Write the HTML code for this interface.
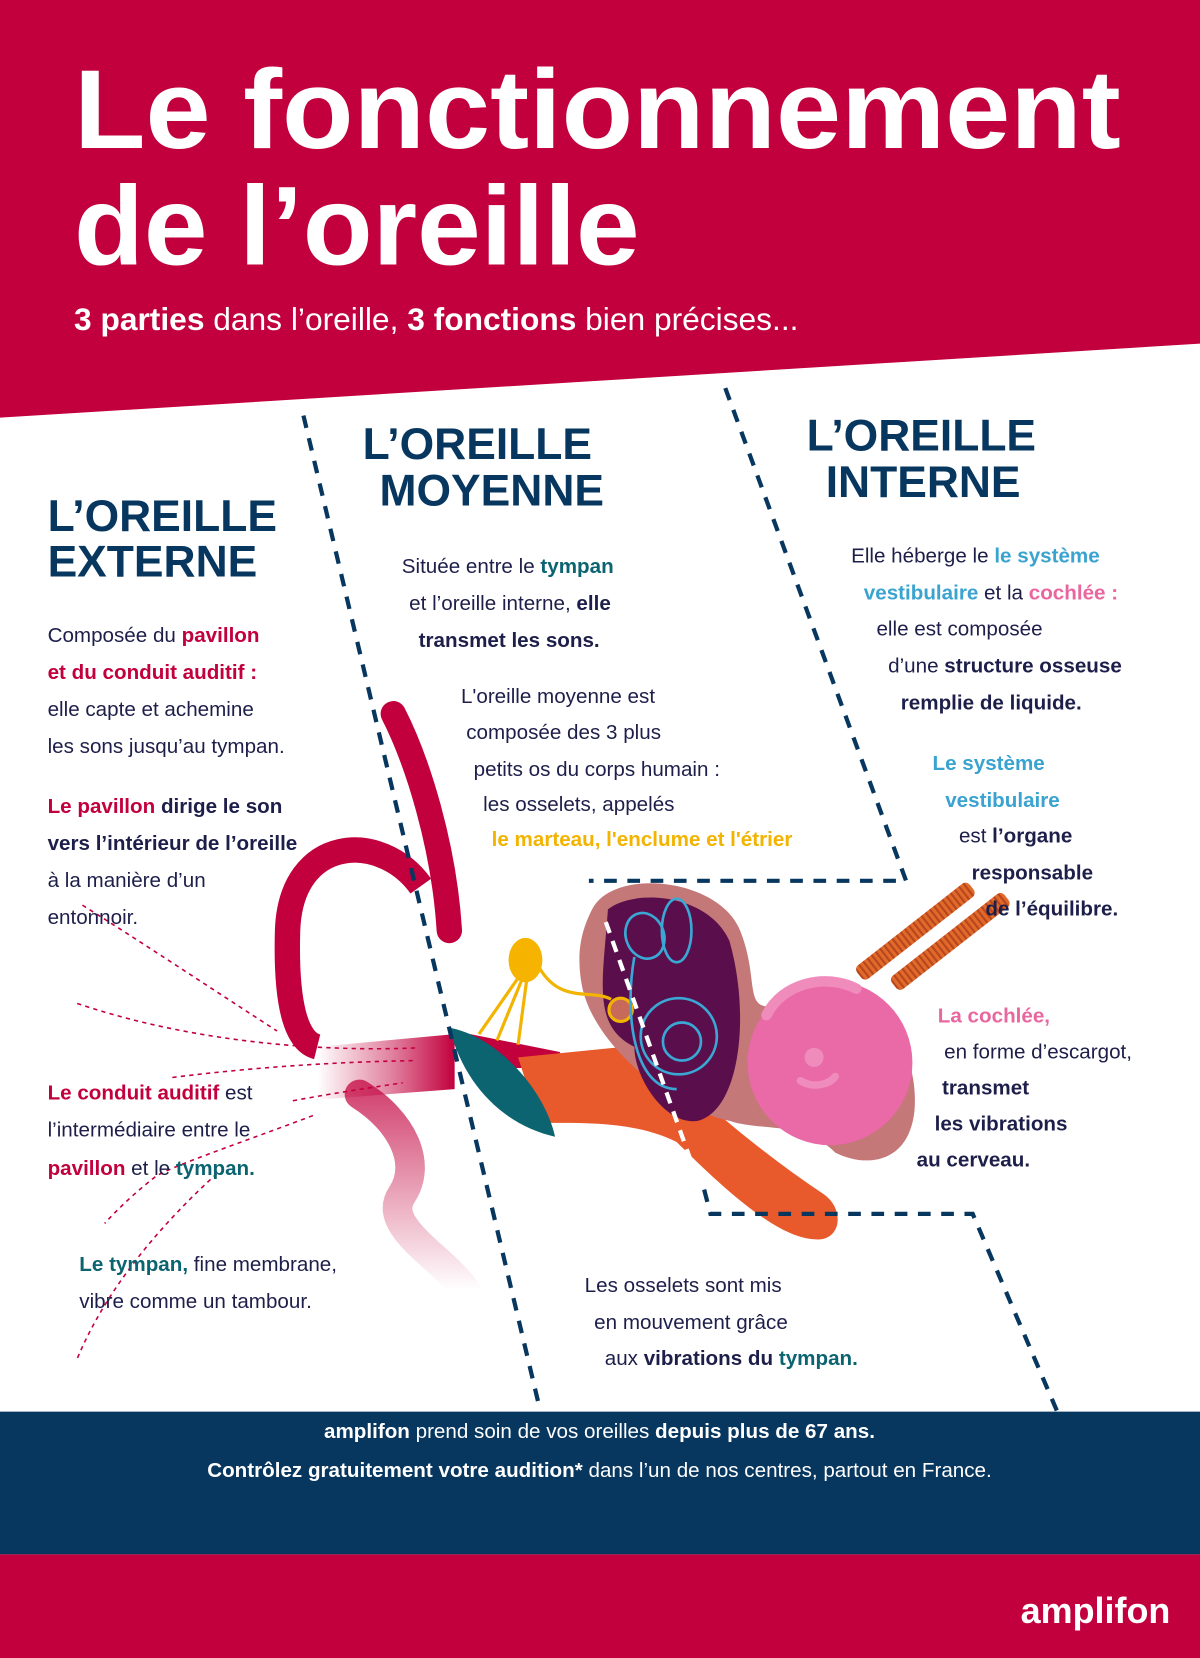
<!DOCTYPE html>
<html><head><meta charset="utf-8"><style>
html,body{margin:0;padding:0;background:#fff;}
svg{display:block;}
text{font-family:"Liberation Sans",sans-serif;}
.b{font-size:19.5px;fill:#1d1f4a;}
.h{font-size:42px;font-weight:bold;fill:#07365f;}
.bo{font-weight:bold;}
.r{fill:#c2003d;font-weight:bold;}
.t{fill:#0b6470;font-weight:bold;}
.lb{fill:#3aa3cf;font-weight:bold;}
.pk{fill:#e8679f;font-weight:bold;}
.y{fill:#f2b400;font-weight:bold;}
</style></head><body>
<svg width="1200" height="1658" viewBox="0 0 1135 1568" preserveAspectRatio="none" xmlns="http://www.w3.org/2000/svg">
<defs>
<linearGradient id="cg" x1="0" x2="1" y1="0" y2="0"><stop offset="0" stop-color="#c2003d" stop-opacity="0"/><stop offset="0.55" stop-color="#c2003d" stop-opacity="0.5"/><stop offset="1" stop-color="#c2003d"/></linearGradient>
<linearGradient id="lg" x1="0" x2="0" y1="0" y2="1"><stop offset="0" stop-color="#c2003d" stop-opacity="0.9"/><stop offset="1" stop-color="#c2003d" stop-opacity="0"/></linearGradient>
<pattern id="st" width="5" height="5" patternUnits="userSpaceOnUse"><rect width="5" height="5" fill="#e06a2a"/><rect width="2" height="5" fill="#b8451d"/></pattern>
</defs>
<rect width="1135" height="1568" fill="#fff"/>
<polygon points="0,0 1135,0 1135,325 0,395" fill="#c2003d"/>
<text x="70" y="140" font-size="106" font-weight="bold" fill="#fff" textLength="990" lengthAdjust="spacingAndGlyphs">Le fonctionnement</text>
<text x="70" y="250" font-size="106" font-weight="bold" fill="#fff" textLength="535" lengthAdjust="spacingAndGlyphs">de l’oreille</text>
<text x="70" y="312" font-size="30" fill="#fff"><tspan font-weight="bold">3 parties</tspan> dans l’oreille, <tspan font-weight="bold">3 fonctions</tspan> bien précises...</text>

<!-- illustration -->
<path d="M340,1035 C380,1060 400,1100 380,1130 C360,1160 420,1190 440,1220" stroke="url(#lg)" stroke-width="28" fill="none" stroke-linecap="round" opacity="0.8"/>
<path d="M300,990 L430,978 L430,1030 L300,1040 Z" fill="url(#cg)"/>
<path d="M398,838 C360,785 275,790 272,880 C270,950 280,985 300,990" stroke="#c2003d" stroke-width="24" fill="none"/>
<path d="M372,675 C395,720 420,800 425,880" stroke="#c2003d" stroke-width="24" fill="none" stroke-linecap="round"/>
<polygon points="430,975 530,995 520,1010 440,1010" fill="#c2003d"/>
<path d="M490,1000 L610,988 C660,1040 720,1090 780,1130 C800,1145 795,1175 770,1172 C740,1170 700,1140 640,1080 C600,1060 550,1062 510,1062 Z" fill="#e85a2b"/>
<path d="M425,972 C470,980 515,1030 525,1075 C480,1065 440,1030 425,972 Z" fill="#0b6470"/>
<path d="M560,860 C580,820 680,830 700,880 C720,930 700,960 740,950 C820,930 870,980 865,1050 C860,1100 820,1105 790,1090 C760,1060 720,1070 690,1060 C640,1050 560,990 550,930 C545,900 550,880 560,860 Z" fill="#c47878"/>
<path d="M575,860 C600,840 670,845 690,890 C710,960 700,1050 660,1060 C630,1065 600,1020 600,990 C560,970 570,930 575,860 Z" fill="#5a0f4c"/>
<g stroke="#f2b400" stroke-width="3" fill="none"><line x1="490" y1="925" x2="453" y2="978"/><line x1="493" y1="928" x2="470" y2="984"/><line x1="498" y1="928" x2="490" y2="988"/><path d="M510,915 C530,950 560,935 578,945"/><circle cx="587" cy="955" r="11" fill="#c86a5a"/></g>
<ellipse cx="497" cy="908" rx="16" ry="21" fill="#f6b400"/>
<g stroke="#3aa7d4" stroke-width="2.5" fill="none"><ellipse cx="610" cy="885" rx="18" ry="22" transform="rotate(-20 610 885)"/><ellipse cx="640" cy="880" rx="14" ry="30"/><circle cx="642" cy="980" r="36"/><circle cx="645" cy="985" r="18"/><path d="M600,905 C590,960 600,1030 640,1030"/></g>
<g transform="rotate(-38 870 890)"><rect x="805" y="872" width="135" height="16" rx="5" fill="url(#st)"/><rect x="825" y="900" width="135" height="16" rx="5" fill="url(#st)"/></g>
<circle cx="785" cy="1005" r="78" fill="#e96aa6"/>
<path d="M725,960 C740,930 780,920 810,935" stroke="#f08cbc" stroke-width="10" fill="none" stroke-linecap="round"/>
<circle cx="770" cy="1000" r="9" fill="#f08cbc"/>
<path d="M757,1022 C770,1030 785,1025 790,1018" stroke="#f08cbc" stroke-width="7" fill="none" stroke-linecap="round"/>
<path d="M573,872 L672,1150" stroke="#fff" stroke-width="4" stroke-dasharray="11 8"/>

<!-- dashed navy -->
<g stroke="#07365f" stroke-width="4" stroke-dasharray="12 10" fill="none">
<line x1="287" y1="393" x2="510" y2="1330"/>
<polyline points="686,367 857,833 557,833"/>
<polyline points="666,1125 672,1148 920,1148 1000,1335"/>
</g>
<!-- red dotted -->
<g stroke="#c2003d" stroke-width="1.5" stroke-dasharray="4 4" fill="none">
<path d="M78,856 C140,895 200,935 262,975"/>
<path d="M73,949 C180,985 300,995 394,991"/>
<path d="M163,1019 C250,1008 330,1004 394,1003"/>
<path d="M277,1041 C320,1033 355,1028 381,1024"/>
<path d="M296,1055 C230,1080 170,1100 148,1112 C125,1130 110,1145 99,1157"/>
<path d="M205,1110 C150,1160 100,1220 73,1285"/>
</g>

<!-- headings -->
<text class="h" x="45" y="502">L’OREILLE</text>
<text class="h" x="45" y="545">EXTERNE</text>
<text class="h" x="343" y="434">L’OREILLE</text>
<text class="h" x="359" y="478">MOYENNE</text>
<text class="h" x="763" y="426">L’OREILLE</text>
<text class="h" x="781" y="470">INTERNE</text>

<g class="b">
<text x="45" y="607">Composée du <tspan class="r">pavillon</tspan></text>
<text x="45" y="642"><tspan class="r">et du conduit auditif :</tspan></text>
<text x="45" y="677">elle capte et achemine</text>
<text x="45" y="712">les sons jusqu’au tympan.</text>
<text x="45" y="769"><tspan class="r">Le pavillon</tspan> <tspan class="bo">dirige le son</tspan></text>
<text x="45" y="804" class="bo">vers l’intérieur de l’oreille</text>
<text x="45" y="839">à la manière d’un</text>
<text x="45" y="874">entonnoir.</text>
<text x="45" y="1040"><tspan class="r">Le conduit auditif</tspan> est</text>
<text x="45" y="1075">l’intermédiaire entre le</text>
<text x="45" y="1111"><tspan class="r">pavillon</tspan> et le <tspan class="t">tympan.</tspan></text>
<text x="75" y="1202"><tspan class="t">Le tympan,</tspan> fine membrane,</text>
<text x="75" y="1237">vibre comme un tambour.</text>

<text x="380" y="542">Située entre le <tspan class="t">tympan</tspan></text>
<text x="387" y="577">et l’oreille interne, <tspan class="bo">elle</tspan></text>
<text x="396" y="612" class="bo">transmet les sons.</text>
<text x="436" y="665">L'oreille moyenne est</text>
<text x="441" y="699">composée des 3 plus</text>
<text x="448" y="734">petits os du corps humain :</text>
<text x="457" y="767">les osselets, appelés</text>
<text x="465" y="800" class="y">le marteau, l'enclume et l'étrier</text>

<text x="805" y="532">Elle héberge le <tspan class="lb">le système</tspan></text>
<text x="817" y="567"><tspan class="lb">vestibulaire</tspan> et la <tspan class="pk">cochlée :</tspan></text>
<text x="829" y="601">elle est composée</text>
<text x="840" y="636">d’une <tspan class="bo">structure osseuse</tspan></text>
<text x="852" y="671" class="bo">remplie de liquide.</text>
<text x="882" y="728" class="lb">Le système</text>
<text x="894" y="763" class="lb">vestibulaire</text>
<text x="907" y="797">est <tspan class="bo">l’organe</tspan></text>
<text x="919" y="832" class="bo">responsable</text>
<text x="932" y="866" class="bo">de l’équilibre.</text>
<text x="887" y="967" class="pk">La cochlée,</text>
<text x="893" y="1001">en forme d’escargot,</text>
<text x="891" y="1035" class="bo">transmet</text>
<text x="884" y="1069" class="bo">les vibrations</text>
<text x="867" y="1103" class="bo">au cerveau.</text>

<text x="553" y="1222">Les osselets sont mis</text>
<text x="562" y="1257">en mouvement grâce</text>
<text x="572" y="1291">aux <tspan class="bo">vibrations du</tspan> <tspan class="t">tympan.</tspan></text>
</g>

<rect x="0" y="1335" width="1135" height="135" fill="#07365f"/>
<rect x="0" y="1470" width="1135" height="98" fill="#c2003d"/>
<text x="567" y="1360" text-anchor="middle" font-size="19.5" fill="#fff"><tspan font-weight="bold">amplifon</tspan> prend soin de vos oreilles <tspan font-weight="bold">depuis plus de 67 ans.</tspan></text>
<text x="567" y="1397" text-anchor="middle" font-size="19.5" fill="#fff"><tspan font-weight="bold">Contrôlez gratuitement votre audition*</tspan> dans l’un de nos centres, partout en France.</text>
<text x="1107" y="1535" text-anchor="end" font-size="34" font-weight="bold" fill="#fff">amplifon</text>
</svg>
</body></html>
